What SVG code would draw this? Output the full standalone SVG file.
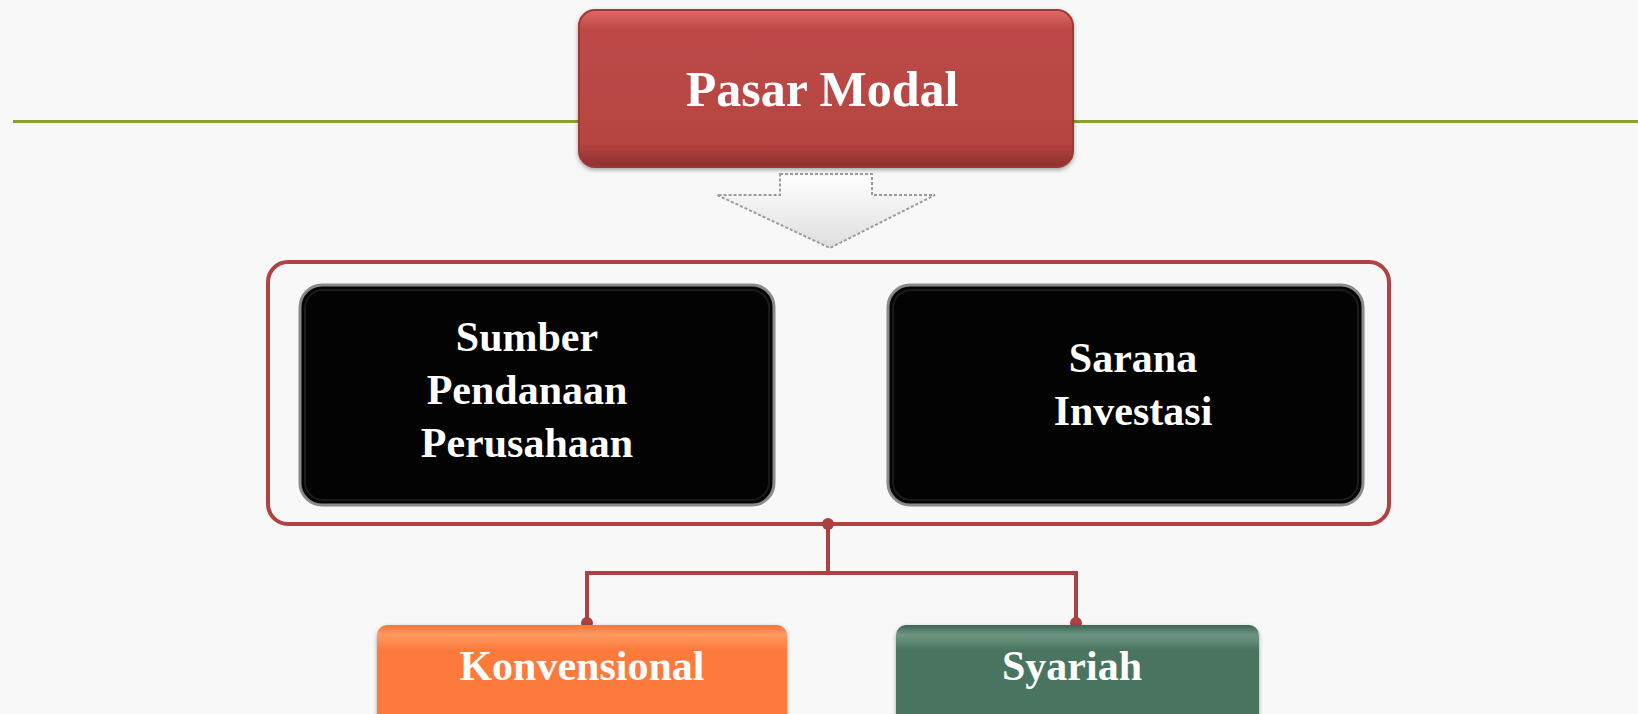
<svg xmlns="http://www.w3.org/2000/svg" width="1638" height="714" viewBox="0 0 1638 714">
<defs>
<linearGradient id="gRed" x1="0" y1="0" x2="0" y2="1">
<stop offset="0" stop-color="#e06a68"/>
<stop offset="0.12" stop-color="#bd4a47"/>
<stop offset="0.85" stop-color="#b54441"/>
<stop offset="1" stop-color="#8e302e"/>
</linearGradient>
<linearGradient id="gOrange" x1="0" y1="0" x2="0" y2="1">
<stop offset="0" stop-color="#f0763c"/>
<stop offset="0.1" stop-color="#ff9a62"/>
<stop offset="0.25" stop-color="#fd7a3c"/>
<stop offset="0.92" stop-color="#fd7a3c"/>
<stop offset="1" stop-color="#c85a28"/>
</linearGradient>
<linearGradient id="gGreen" x1="0" y1="0" x2="0" y2="1">
<stop offset="0" stop-color="#3f6654"/>
<stop offset="0.1" stop-color="#6f9684"/>
<stop offset="0.25" stop-color="#4a7561"/>
<stop offset="0.92" stop-color="#4a7561"/>
<stop offset="1" stop-color="#2e4c3e"/>
</linearGradient>
<linearGradient id="gArrow" x1="0" y1="0" x2="0" y2="1">
<stop offset="0" stop-color="#ffffff"/>
<stop offset="1" stop-color="#dedede"/>
</linearGradient>
<filter id="shadow" x="-5%" y="-10%" width="110%" height="130%">
<feDropShadow dx="0" dy="2" stdDeviation="2" flood-color="#000" flood-opacity="0.35"/>
</filter>
</defs>
<style>
.lbl{font-family:"Liberation Serif","Times New Roman",serif;font-weight:bold;fill:#ffffff;text-anchor:middle}
.conn{fill:none;stroke:#ad4040;stroke-width:4}
.dot{fill:#ad4040}
</style>
<rect x="0" y="0" width="1638" height="714" fill="#f8f8f8"/>
<g id="rule">
<line x1="13" y1="121.5" x2="1638" y2="121.5" stroke="#8a9f2f" stroke-width="3"/>
</g>
<g id="pasar-modal">
<rect x="579" y="10" width="494" height="157" rx="16" fill="url(#gRed)" stroke="#9a3a38" stroke-width="2" filter="url(#shadow)"/>
<text class="lbl" x="822" y="106" font-size="50">Pasar Modal</text>
</g>
<g id="down-arrow">
<path d="M780,174 L872,174 L872,195 L935,195 L830,248 L717,195 L780,195 Z" fill="url(#gArrow)" stroke="#9a9a9a" stroke-width="2" stroke-dasharray="3 2"/>
</g>
<g id="group-box">
<rect x="268" y="262" width="1121" height="262" rx="20" fill="none" stroke="#b04242" stroke-width="4"/>
</g>
<g id="sumber">
<rect x="300" y="285" width="474" height="220" rx="22" fill="#030303" stroke="#8a8a8a" stroke-width="3"/>
<rect x="305" y="290" width="464" height="210" rx="18" fill="none" stroke="#1a1a1a" stroke-width="2"/>
<text class="lbl" x="527" y="351" font-size="42">Sumber</text>
<text class="lbl" x="527" y="404" font-size="42">Pendanaan</text>
<text class="lbl" x="527" y="457" font-size="42">Perusahaan</text>
</g>
<g id="sarana">
<rect x="888" y="285" width="475" height="220" rx="22" fill="#030303" stroke="#8a8a8a" stroke-width="3"/>
<rect x="893" y="290" width="465" height="210" rx="18" fill="none" stroke="#1a1a1a" stroke-width="2"/>
<text class="lbl" x="1133" y="372" font-size="42">Sarana</text>
<text class="lbl" x="1133" y="425" font-size="42">Investasi</text>
</g>
<g id="connectors">
<polyline class="conn" points="828,524 828,573"/>
<polyline class="conn" points="587,623 587,573 1076,573 1076,623"/>
<circle class="dot" cx="828" cy="524" r="6"/>
<circle class="dot" cx="587" cy="623" r="6"/>
<circle class="dot" cx="1076" cy="623" r="6"/>
</g>
<g id="konvensional">
<rect x="377" y="625" width="410" height="100" rx="10" fill="url(#gOrange)" filter="url(#shadow)"/>
<text class="lbl" x="582" y="680" font-size="42">Konvensional</text>
</g>
<g id="syariah">
<rect x="896" y="625" width="363" height="100" rx="10" fill="url(#gGreen)" filter="url(#shadow)"/>
<text class="lbl" x="1072" y="680" font-size="42">Syariah</text>
</g>
</svg>
